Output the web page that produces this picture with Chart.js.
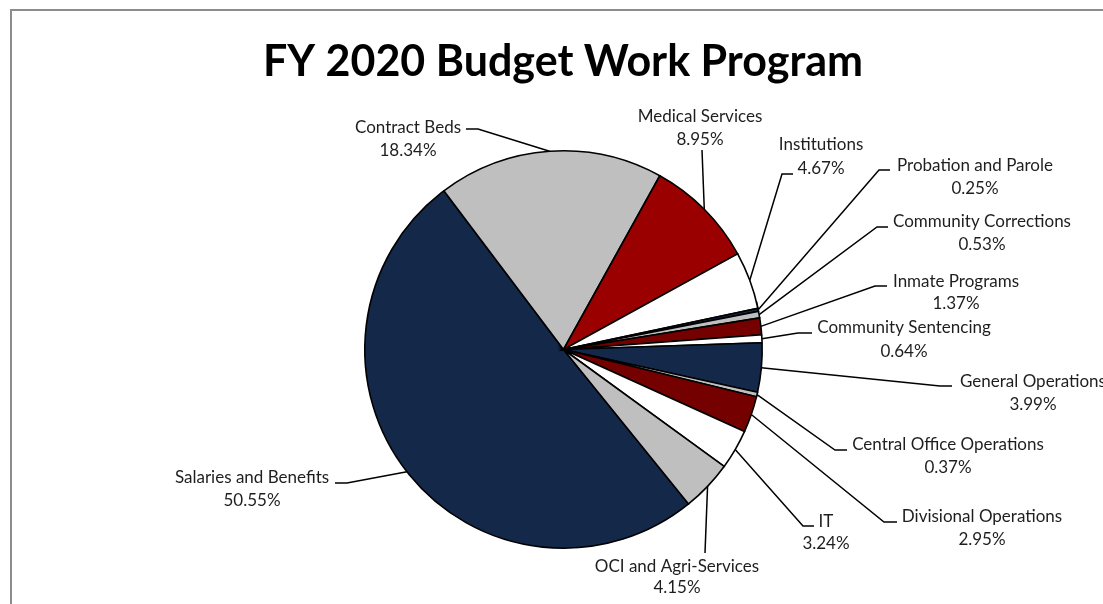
<!DOCTYPE html>
<html>
<head>
<meta charset="utf-8">
<title>FY 2020 Budget Work Program</title>
<script src="https://cdn.jsdelivr.net/npm/chart.js@4/dist/chart.umd.min.js"></script>
<style>
  html, body { margin: 0; padding: 0; background: #ffffff; overflow: hidden; }
  #wrap { position: relative; width: 1103px; height: 604px; }
  #frame {
    position: absolute; left: 10px; top: 9px; width: 1200px; height: 700px;
    border-top: 2px solid #8c8c8c; border-left: 2px solid #8c8c8c;
    pointer-events: none;
  }
  canvas { position: absolute; left: 0; top: 0; }
</style>
</head>
<body>
<div id="wrap">
  <canvas id="chart" width="1103" height="604"></canvas>
  <div id="frame"></div>
</div>
<script>
// Budget categories and their share of the FY 2020 work program (percent)
const categories = [
  'Salaries and Benefits',
  'Contract Beds',
  'Medical Services',
  'Institutions',
  'Probation and Parole',
  'Community Corrections',
  'Inmate Programs',
  'Community Sentencing',
  'General Operations',
  'Central Office Operations',
  'Divisional Operations',
  'IT',
  'OCI and Agri-Services'
];
const shares = [50.55, 18.34, 8.95, 4.67, 0.25, 0.53, 1.37, 0.64, 3.99, 0.37, 2.95, 3.24, 4.15];

const NAVY = '#14284a', GRAY = '#bfbfbf', RED = '#9a0000', DARK_RED = '#740000', WHITE = '#ffffff';
const sliceColors = [NAVY, GRAY, RED, WHITE, NAVY, GRAY, DARK_RED, WHITE, NAVY, GRAY, DARK_RED, WHITE, GRAY];

// Data label placement: text centre for name and percent lines, plus the
// leader-line bend points running outward from the slice edge.
const labelLayout = [
  { x: 252, nameY: 478, pctY: 501, path: [[347, 483], [335, 483]] },
  { x: 408, nameY: 128, pctY: 151, path: [[478, 129], [466, 129]] },
  { x: 700, nameY: 117, pctY: 140, path: [[702, 150]] },
  { x: 821, nameY: 145, pctY: 169, path: [[782, 174], [793, 174]] },
  { x: 975, nameY: 166, pctY: 189, path: [[879, 170], [890, 170]] },
  { x: 982, nameY: 222, pctY: 245, path: [[877, 227], [888, 227]] },
  { x: 956, nameY: 282, pctY: 304, path: [[875, 286], [887, 286]] },
  { x: 904, nameY: 328, pctY: 352, path: [[798, 333], [812, 333]] },
  { x: 1033, nameY: 382, pctY: 405, path: [[940, 386], [952, 386]] },
  { x: 948, nameY: 445, pctY: 468, path: [[835, 450], [847, 450]] },
  { x: 982, nameY: 517, pctY: 540, path: [[884, 522], [897, 522]] },
  { x: 826, nameY: 522, pctY: 544, path: [[803, 526], [814, 526]] },
  { x: 677, nameY: 567, pctY: 588, path: [[705, 553]] }
];

const LABEL_FONT = '17px Lato, "Open Sans", sans-serif';
const TITLE_FONT = 'bold 43px Lato, "Open Sans", sans-serif';

const leaderLabels = {
  id: 'leaderLabels',
  afterDatasetsDraw(chart) {
    const ctx = chart.ctx;
    const arcs = chart.getDatasetMeta(0).data;
    ctx.save();
    // leader lines from the middle of each slice's outer edge
    ctx.strokeStyle = '#000000';
    ctx.lineWidth = 1.5;
    arcs.forEach((arc, i) => {
      const p = arc.getProps(['x', 'y', 'startAngle', 'endAngle', 'outerRadius'], true);
      const mid = (p.startAngle + p.endAngle) / 2;
      const ax = p.x + Math.cos(mid) * p.outerRadius;
      const ay = p.y + Math.sin(mid) * p.outerRadius;
      ctx.beginPath();
      ctx.moveTo(ax, ay);
      labelLayout[i].path.forEach(pt => ctx.lineTo(pt[0], pt[1]));
      ctx.stroke();
    });
    // category name and percentage
    ctx.fillStyle = '#1e1e1e';
    ctx.font = LABEL_FONT;
    ctx.textAlign = 'center';
    ctx.textBaseline = 'middle';
    categories.forEach((name, i) => {
      const L = labelLayout[i];
      ctx.fillText(name, L.x, L.nameY);
      ctx.fillText(shares[i].toFixed(2) + '%', L.x, L.pctY);
    });
    // chart title
    ctx.fillStyle = '#000000';
    ctx.font = TITLE_FONT;
    ctx.fillText('FY 2020 Budget Work Program', 563, 62);
    ctx.restore();
  }
};

new Chart(document.getElementById('chart'), {
  type: 'pie',
  data: {
    labels: categories,
    datasets: [{
      data: shares,
      backgroundColor: sliceColors,
      borderColor: '#000000',
      borderWidth: 1.6,
      borderJoinStyle: 'miter'
    }]
  },
  options: {
    responsive: false,
    animation: false,
    rotation: 141,
    layout: { padding: { left: 364, top: 150, right: 340, bottom: 55 } },
    plugins: {
      legend: { display: false },
      tooltip: { enabled: false },
      title: { display: false }
    }
  },
  plugins: [leaderLabels]
});
</script>
</body>
</html>
